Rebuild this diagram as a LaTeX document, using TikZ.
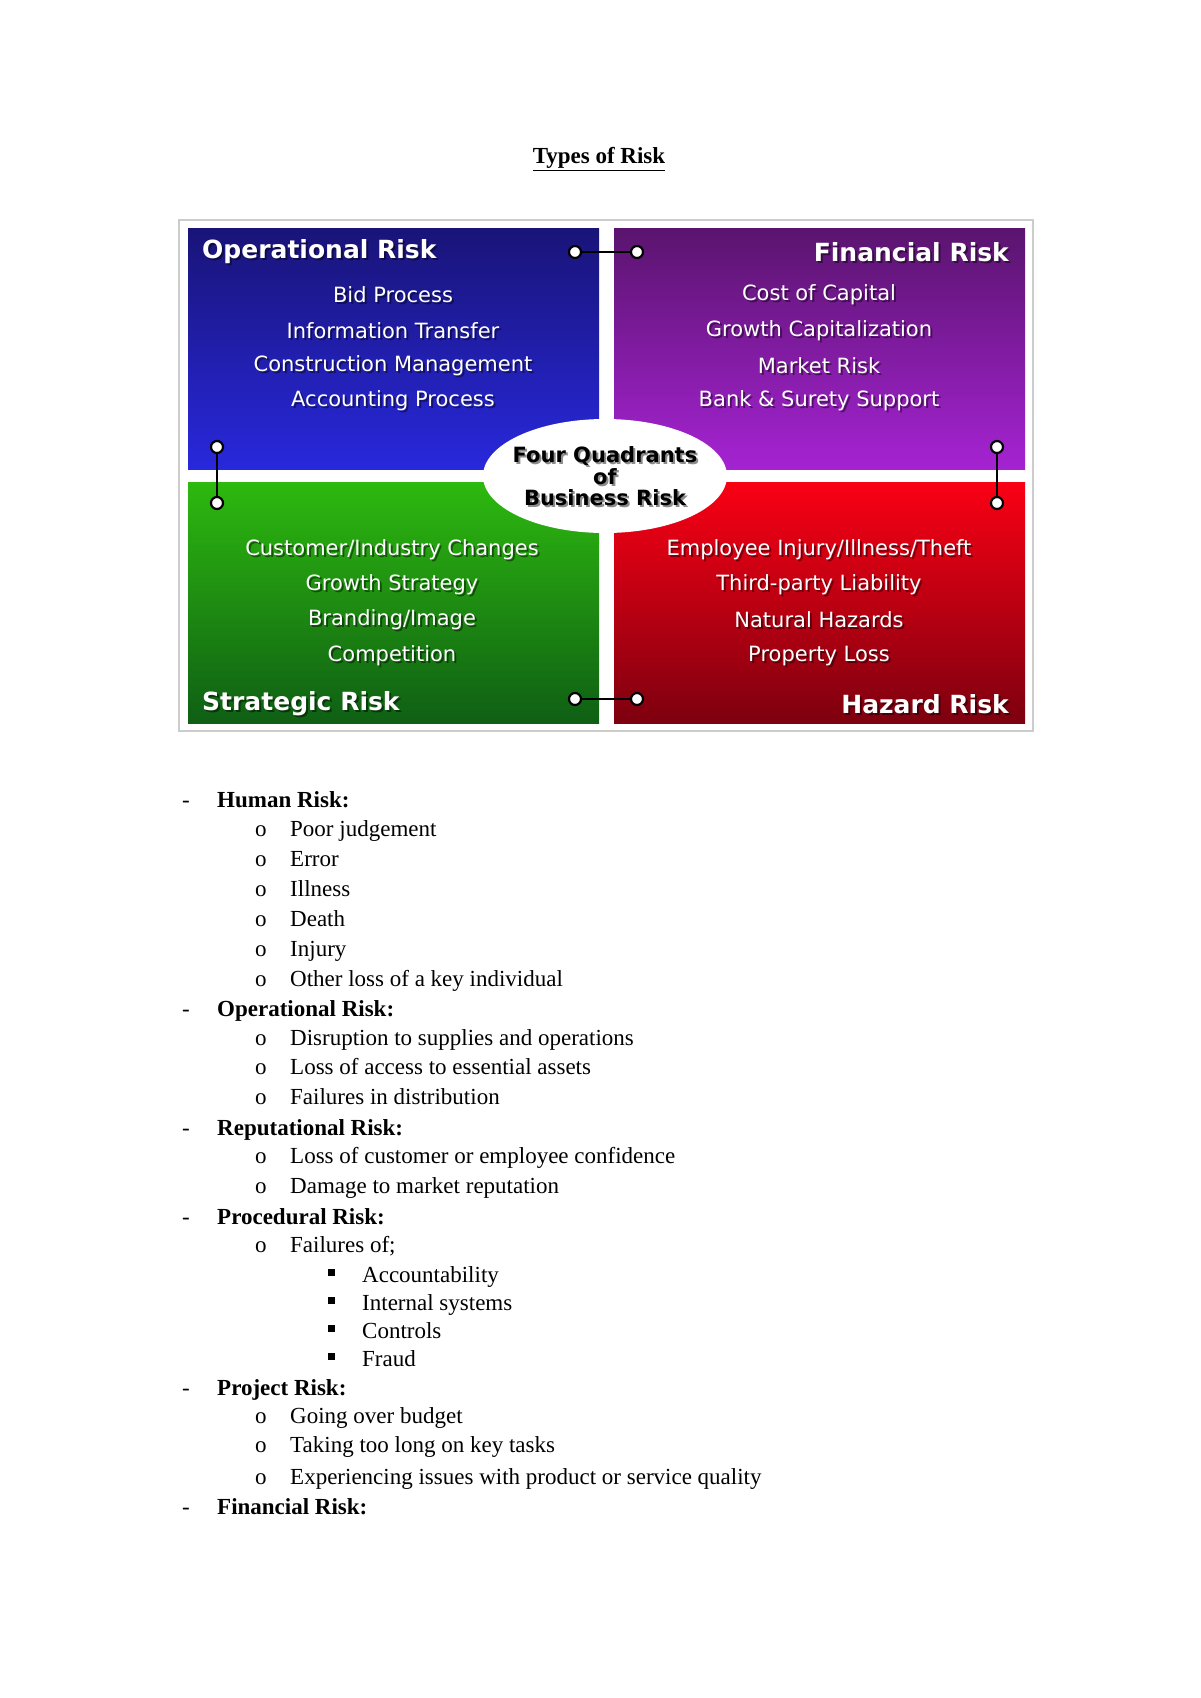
\documentclass[tikz,border=0pt]{standalone}
\usepackage{fontspec}
\setmainfont{Liberation Serif}
\newfontfamily\qf{DejaVu Sans}
\begin{document}
\begin{tikzpicture}[x=1pt,y=-1pt,
 qt/.style={text=white,font=\qf\fontsize{21}{24}\selectfont,inner sep=0},
 qh/.style={text=white,font=\qf\bfseries\fontsize{25}{28}\selectfont,inner sep=0},
 sh/.style={text=black,opacity=0.45},
 lt/.style={anchor=base west,inner sep=0,font=\fontsize{23}{28}\selectfont},
 ring/.style={draw=black,line width=2.2pt,fill=white},
 bar/.style={draw=black,line width=2.5pt}]
\useasboundingbox (0,0) rectangle (1200,1698);
\fill[white] (0,0) rectangle (1200,1698);
\node[font=\bfseries\fontsize{23}{28}\selectfont] (title) at (599,159) {\underline{Types of Risk}};
% frame
\draw[gray!40,line width=1.5pt] (179,220) rectangle (1033,731);
\shade[top color={rgb,255:red,25;green,20;blue,120},bottom color={rgb,255:red,40;green,40;blue,220}] (188,228) rectangle (599,469);
\shade[top color={rgb,255:red,90;green,20;blue,110},bottom color={rgb,255:red,165;green,35;blue,210}] (614,228) rectangle (1025,469);
\shade[top color={rgb,255:red,45;green,185;blue,15},bottom color={rgb,255:red,15;green,95;blue,20}] (188,482) rectangle (599,723);
\shade[top color={rgb,255:red,250;green,0;blue,20},bottom color={rgb,255:red,125;green,0;blue,15}] (614,482) rectangle (1025,723);
\fill[white] (605,476) ellipse [x radius=122,y radius=57];
% center text
\foreach \t/\y [count=\i] in {Four Quadrants/456,of/477,Business Risk/498}{
 \node[qh,sh,font=\qf\bfseries\fontsize{21}{24}\selectfont] (cs\i) at (607,\y+2) {\t};
 \node[qh,text=black,font=\qf\bfseries\fontsize{21}{24}\selectfont] (c\i) at (605,\y) {\t};}
% titles
\node[qh,sh,anchor=west] (t1s) at (204,254) {Operational Risk};
\node[qh,anchor=west] (t1) at (202,252) {Operational Risk};
\node[qh,sh,anchor=east] (t2s) at (1011,254) {Financial Risk};
\node[qh,anchor=east] (t2) at (1009,252) {Financial Risk};
\node[qh,sh,anchor=west] (t3s) at (204,706) {Strategic Risk};
\node[qh,anchor=west] (t3) at (202,704) {Strategic Risk};
\node[qh,sh,anchor=east] (t4s) at (1011,706) {Hazard Risk};
\node[qh,anchor=east] (t4) at (1009,704) {Hazard Risk};
% items
\foreach \t/\y [count=\i] in {Bid Process/295,Information Transfer/331,Construction Management/366,Accounting Process/401}{
 \node[qt,sh] (as\i) at (395,\y+2) {\t}; \node[qt] (a\i) at (393,\y) {\t};}
\foreach \t/\y [count=\i] in {Cost of Capital/295,Growth Capitalization/331,Market Risk/366,Bank \& Surety Support/401}{
 \node[qt,sh] (bs\i) at (821,\y+2) {\t}; \node[qt] (b\i) at (819,\y) {\t};}
\foreach \t/\y [count=\i] in {{Customer/Industry Changes}/550,Growth Strategy/585,{Branding/Image}/620,Competition/656}{
 \node[qt,sh] (gs\i) at (394,\y+2) {\t}; \node[qt] (g\i) at (392,\y) {\t};}
\foreach \t/\y [count=\i] in {{Employee Injury/Illness/Theft}/550,Third-party Liability/585,Natural Hazards/620,Property Loss/656}{
 \node[qt,sh] (rs\i) at (821,\y+2) {\t}; \node[qt] (r\i) at (819,\y) {\t};}
% connectors
\coordinate (h1a) at (575,252); \coordinate (h1b) at (637,252);
\coordinate (h2a) at (575,699); \coordinate (h2b) at (637,699);
\coordinate (v1a) at (217,447); \coordinate (v1b) at (217,503);
\coordinate (v2a) at (997,447); \coordinate (v2b) at (997,503);
\foreach \a/\b in {h1a/h1b,h2a/h2b,v1a/v1b,v2a/v2b}{
 \draw[bar] (\a) -- (\b);
 \draw[ring] (\a) circle (6); \draw[ring] (\b) circle (6);}
% list
\foreach \y/\lvl/\t [count=\i] in {
807/0/Human Risk:,836/1/Poor judgement,866/1/Error,896/1/Illness,926/1/Death,956/1/Injury,986/1/Other loss of a key individual,
1016/0/Operational Risk:,1045/1/Disruption to supplies and operations,1074/1/Loss of access to essential assets,1104/1/Failures in distribution,
1135/0/Reputational Risk:,1163/1/Loss of customer or employee confidence,1193/1/Damage to market reputation,
1224/0/Procedural Risk:,1252/1/{Failures of;},1282/2/Accountability,1310/2/Internal systems,1338/2/Controls,1366/2/Fraud,
1395/0/Project Risk:,1423/1/Going over budget,1452/1/Taking too long on key tasks,1484/1/Experiencing issues with product or service quality,
1514/0/Financial Risk:}{
 \ifcase\lvl
  \node[lt] (m\i) at (182,\y) {-};
  \node[lt,font=\bfseries\fontsize{23}{28}\selectfont] (l\i) at (217,\y) {\t};
 \or
  \node[lt] (m\i) at (255,\y) {o};
  \node[lt] (l\i) at (290,\y) {\t};
 \or
  \fill (328,\y-13) rectangle (335,\y-6);
  \node[lt] (l\i) at (362,\y) {\t};
 \fi}
\end{tikzpicture}
\end{document}
